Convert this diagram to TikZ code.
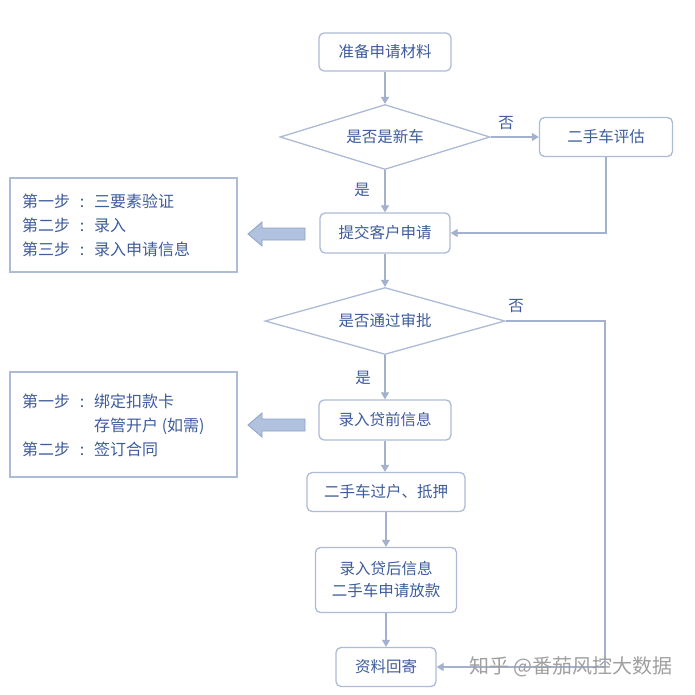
\documentclass[tikz,border=0pt]{standalone}
\usepackage{fontspec}
\setmainfont{Noto Sans CJK SC}
\usetikzlibrary{shapes.geometric,arrows.meta}
\definecolor{bd}{HTML}{AEBBD6}
\definecolor{ln}{HTML}{A3B1CF}
\definecolor{tx}{HTML}{3D5C9C}
\definecolor{af}{HTML}{B0C2DE}
\definecolor{ad}{HTML}{8DA2C8}
\definecolor{wm}{HTML}{A0A0A0}
\begin{document}
\begin{tikzpicture}[x=1pt,y=-1pt,
  box/.style={draw=bd, line width=1.3pt, rounded corners=5pt, text=tx,
    font=\fontsize{15.5}{22}\selectfont, inner sep=0pt, align=center},
  dia/.style={diamond, aspect=3, draw=bd, line width=1.3pt, text=tx,
    font=\fontsize{15.5}{20}\selectfont, inner sep=0pt},
  conn/.style={draw=ln, line width=1.2pt, -{Triangle[width=8pt,length=7pt]}},
  lbl/.style={text=tx, font=\fontsize{15.5}{20}\selectfont, inner sep=0pt},
  note/.style={draw=bd, line width=1.3pt, text=tx, inner sep=0pt,
    font=\fontsize{16}{24}\selectfont},
  fat/.style={draw=ad, fill=af, line width=0.8pt}
]
\useasboundingbox (0,0) rectangle (694,695);
\fill[white] (0,0) rectangle (694,695);

\node[box, minimum width=132pt, minimum height=38pt] (b1) at (385,52) {准备申请材料};
\node[dia, minimum width=210pt, minimum height=65pt] (d1) at (385,137) {是否是新车};
\node[box, minimum width=133pt, minimum height=39pt] (b2) at (606,137) {二手车评估};
\node[box, minimum width=130pt, minimum height=40pt] (b3) at (385,233) {提交客户申请};
\node[dia, minimum width=240pt, minimum height=67pt] (d2) at (385,321) {是否通过审批};
\node[box, minimum width=132pt, minimum height=40pt] (b4) at (385,420) {录入贷前信息};
\node[box, minimum width=158pt, minimum height=39pt] (b5) at (386,492) {二手车过户、抵押};
\node[box, minimum width=141pt, minimum height=65pt] (b6) at (386,580) {录入贷后信息\\二手车申请放款};
\node[box, minimum width=100pt, minimum height=39pt] (b7) at (386,667) {资料回寄};

\node[note, minimum width=227pt, minimum height=94pt] (n1) at (123.5,225) {};
\node[text=tx, inner sep=0pt, anchor=west, font=\fontsize{16}{24}\selectfont] (t1) at (22,227)
  {\begin{tabular}{@{}l@{}l@{}}第一步\makebox[24pt]{:}&三要素验证\\第二步\makebox[24pt]{:}&录入\\第三步\makebox[24pt]{:}&录入申请信息\end{tabular}};
\node[note, minimum width=227pt, minimum height=105pt] (n2) at (123.5,424.5) {};
\node[text=tx, inner sep=0pt, anchor=west, font=\fontsize{16}{24}\selectfont] (t2) at (22,426.5)
  {\begin{tabular}{@{}l@{}l@{}}第一步\makebox[24pt]{:}&绑定扣款卡\\&存管开户 (如需)\\第二步\makebox[24pt]{:}&签订合同\end{tabular}};

\filldraw[fat] (248,234) -- (262,222) -- (262,228) -- (305,228) -- (305,240) -- (262,240) -- (262,246) -- cycle;
\filldraw[fat] (248,425) -- (262,413) -- (262,419) -- (305,419) -- (305,431) -- (262,431) -- (262,437) -- cycle;

\draw[conn] (b1) -- (d1);
\draw[conn] (d1) -- (b2);
\draw[conn] (d1) -- (b3);
\draw[conn] (b2.south) |- (b3.east);
\draw[conn] (b3) -- (d2);
\draw[conn] (d2) -- (b4);
\coordinate (c1) at (605,321);
\draw[conn] (d2.east) -- (c1) |- (b7.east);
\draw[conn] (b4.south) -- (b4.south|-b5.north);
\draw[conn] (b5.south) -- (b5.south|-b6.north);
\draw[conn] (b6) -- (b7);

\node[lbl] (y1) at (506,123) {否};
\node[lbl] (y2) at (362,190) {是};
\node[lbl] (y3) at (516,306) {否};
\node[lbl] (y4) at (363,378) {是};

\node[text=wm, inner sep=0pt, font=\fontsize{20}{24}\selectfont] (wmk) at (571,667) {知乎 @番茄风控大数据};
\end{tikzpicture}
\end{document}
